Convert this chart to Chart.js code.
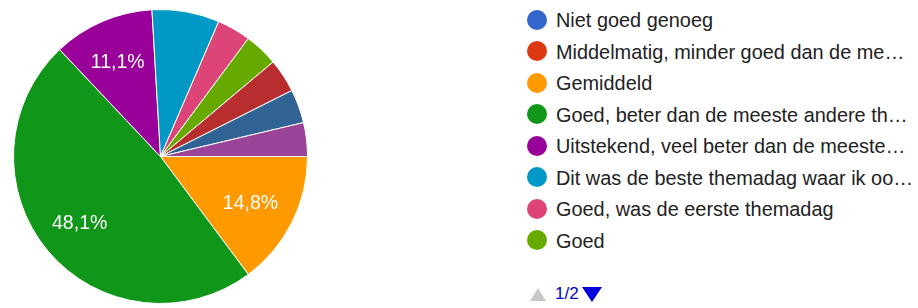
<!DOCTYPE html>
<html lang="nl">
<head>
  <meta charset="UTF-8" />
  <title>Themadag</title>
  <script src="https://cdn.jsdelivr.net/npm/chart.js"></script>
  <style>
    html, body { margin: 0; background: #fff; font-family: Arial, "Liberation Sans", sans-serif; overflow: hidden; }
    #wrap { position: relative; width: 918px; height: 308px; overflow: hidden; }
    #pieBox { position: absolute; left: 0; top: 0; width: 321px; height: 308px; }
    #legend { position: absolute; left: 527px; top: 5px; margin: 0; padding: 0; list-style: none; }
    #legend li { height: 31.5px; line-height: 31.5px; font-size: 19.9px; color: #222; white-space: nowrap; }
    #legend .dot { display: inline-block; width: 20px; height: 20px; border-radius: 50%; vertical-align: middle; margin-right: 9px; position: relative; top: -2px; }
    #up { position: absolute; left: 530px; top: 288px; width: 0; height: 0;
          border-left: 8px solid transparent; border-right: 8px solid transparent; border-bottom: 13px solid #c8c8c8; }
    #down { position: absolute; left: 582px; top: 287px; width: 0; height: 0;
          border-left: 10px solid transparent; border-right: 10px solid transparent; border-top: 15px solid #0000dd; }
    #page { position: absolute; left: 555px; top: 284px; font-size: 17px; line-height: 20px; color: #0000cc; }
  </style>
</head>
<body>
<div id="wrap">
  <div id="pieBox"><canvas id="pieChart" width="321" height="308"></canvas></div>
  <ul id="legend"></ul>
  <div id="up"></div><div id="page"></div><div id="down"></div>
</div>

<script>
  // legenda pagina 1 (teksten zoals ze afgekapt getoond worden)
  const labels = [
    'Niet goed genoeg',
    'Middelmatig, minder goed dan de me…',
    'Gemiddeld',
    'Goed, beter dan de meeste andere th…',
    'Uitstekend, veel beter dan de meeste…',
    'Dit was de beste themadag waar ik oo…',
    'Goed, was de eerste themadag',
    'Goed'
  ];
  // aantal antwoorden (27 in totaal), laatste drie staan op legenda pagina 2
  const counts = [0, 0, 4, 13, 3, 2, 1, 1, 1, 1, 1];
  const colors = ['#3366cc', '#dc3912', '#ff9900', '#109618', '#990099', '#0099c6',
                  '#dd4477', '#66aa00', '#b82e2e', '#316395', '#994499'];
  const pageText = '1/2';

  // legenda
  const legend = document.getElementById('legend');
  labels.forEach((l, i) => {
    legend.innerHTML += `<li><span class="dot" style="background:${colors[i]}"></span>${l}</li>`;
  });
  document.getElementById('page').textContent = pageText;

  // percentages in de taartpunten
  const pctLabels = {
    id: 'pctLabels',
    afterDatasetsDraw(chart) {
      const ctx = chart.ctx;
      const meta = chart.getDatasetMeta(0);
      const total = counts.reduce((a, b) => a + b, 0);
      ctx.save();
      ctx.fillStyle = '#fff';
      ctx.font = '19.5px Arial, "Liberation Sans", sans-serif';
      ctx.textAlign = 'center';
      ctx.textBaseline = 'middle';
      meta.data.forEach((arc, i) => {
        const pct = counts[i] / total * 100;
        if (pct < 10) return;
        const p = arc.getProps(['x', 'y', 'startAngle', 'endAngle', 'outerRadius'], true);
        const mid = (p.startAngle + p.endAngle) / 2;
        const r = p.outerRadius * 0.7;
        const txt = pct.toFixed(1).replace('.', ',') + '%';
        ctx.fillText(txt, p.x + Math.cos(mid) * r - 2, p.y + Math.sin(mid) * r + 1);
      });
      ctx.restore();
    }
  };

  new Chart(document.getElementById('pieChart'), {
    type: 'pie',
    data: {
      labels: labels,
      datasets: [{
        data: counts,
        backgroundColor: colors,
        borderColor: '#fff',
        borderWidth: 1
      }]
    },
    options: {
      responsive: false,
      animation: false,
      rotation: 90,
      layout: { padding: { top: 9, bottom: 4, left: 13, right: 13 } },
      plugins: { legend: { display: false }, tooltip: { enabled: false } }
    },
    plugins: [pctLabels]
  });
</script>
</body>
</html>
